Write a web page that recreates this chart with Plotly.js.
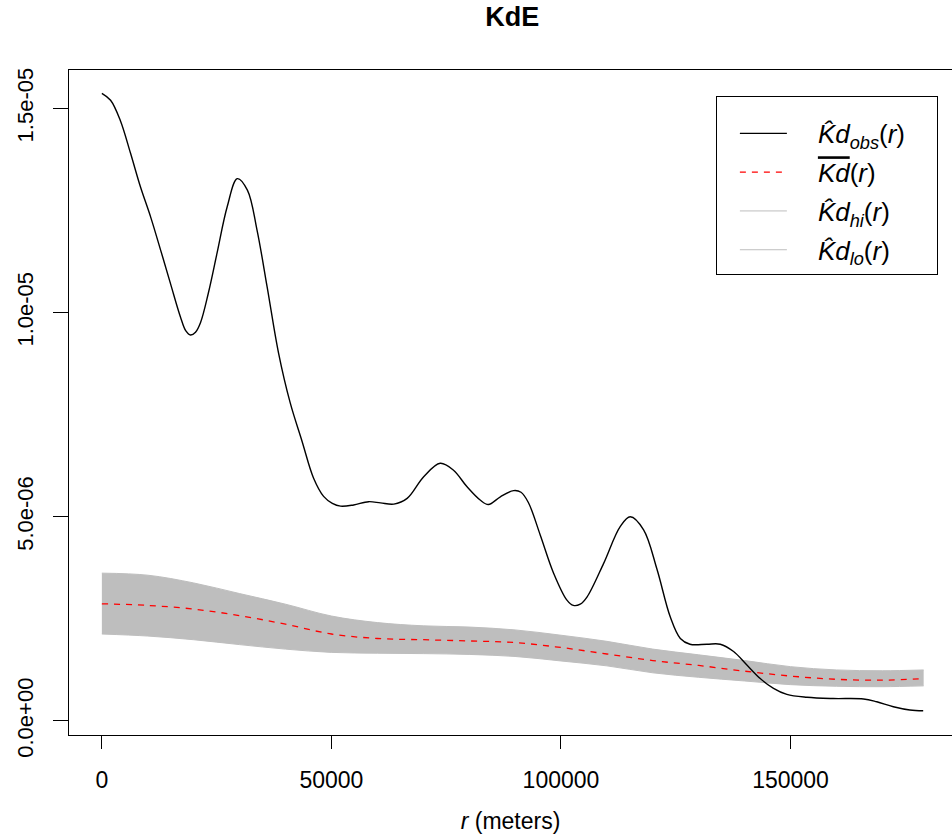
<!DOCTYPE html>
<html>
<head>
<meta charset="utf-8">
<script src="https://cdn.plot.ly/plotly-3.0.1.min.js"></script>
<style>html,body{margin:0;padding:0;background:#fff;}#chart{width:952px;height:839px;}</style>
</head>
<body>
<div id="chart"></div>
<script>
// Observed Kd (r in meters, values in units of 1e-6)
const rObs = [0, 1900, 4000, 6250, 8400, 10600, 12800, 14950, 17100, 18300, 19300, 20400, 21500, 23200, 25100, 27300, 29500, 31700, 33800, 36000, 38500, 41000, 43600, 46100, 48300, 50200, 52000, 54850, 58100, 60700, 63600, 66500, 70100, 73700, 76600, 79500, 82400, 84200, 86800, 89700, 91300, 92900, 95500, 98400, 101300, 102700, 104200, 105700, 109300, 112900, 115100, 118000, 120900, 123800, 126000, 128100, 131800, 134700, 137600, 140500, 143400, 146300, 149200, 153600, 159300, 165900, 168800, 172400, 176000, 178900];
const kdObs = [15.37, 15.2, 14.71, 13.9, 13.08, 12.35, 11.53, 10.71, 9.9, 9.55, 9.45, 9.52, 9.76, 10.48, 11.46, 12.59, 13.28, 13.0, 12.02, 10.63, 9.0, 7.8, 6.85, 5.95, 5.5, 5.33, 5.26, 5.29, 5.37, 5.34, 5.31, 5.45, 5.98, 6.31, 6.14, 5.74, 5.41, 5.3, 5.49, 5.64, 5.6, 5.35, 4.55, 3.62, 2.96, 2.83, 2.86, 3.04, 3.86, 4.76, 5.0, 4.68, 3.72, 2.55, 2.02, 1.88, 1.88, 1.88, 1.7, 1.37, 1.04, 0.8, 0.65, 0.58, 0.55, 0.54, 0.47, 0.35, 0.27, 0.25];

// Envelope (mean, hi, lo)
const rEnv = [0, 10000, 20000, 30000, 40000, 50000, 60000, 70000, 80000, 90000, 100000, 110000, 120000, 130000, 140000, 150000, 160000, 170000, 179000];
const kdMean = [2.87, 2.83, 2.74, 2.58, 2.37, 2.13, 2.02, 1.99, 1.96, 1.92, 1.8, 1.64, 1.48, 1.36, 1.22, 1.1, 1.02, 1.0, 1.04];
const kdHi = [3.62, 3.57, 3.38, 3.12, 2.86, 2.57, 2.41, 2.33, 2.3, 2.23, 2.1, 1.95, 1.76, 1.62, 1.48, 1.33, 1.25, 1.23, 1.25];
const kdLo = [2.13, 2.08, 1.99, 1.87, 1.76, 1.68, 1.66, 1.65, 1.63, 1.58, 1.47, 1.35, 1.18, 1.07, 0.98, 0.89, 0.85, 0.84, 0.86];

const yTickVals = [0, 5e-6, 1e-5, 1.5e-5];
const yTickText = ["0.0e+00", "5.0e-06", "1.0e-05", "1.5e-05"];
const xTickVals = [0, 50000, 100000, 150000];
const xTickText = ["0", "50000", "100000", "150000"];

const sc = v => v * 1e-6;
const yObs = kdObs.map(sc), yMean = kdMean.map(sc), yHi = kdHi.map(sc), yLo = kdLo.map(sc);

const grey = "rgb(190,190,190)";
const FONT = "Liberation Sans, Arial, Helvetica, sans-serif";
const SP = "\u2002\u2002";

const traces = [
  {x: rEnv, y: yLo, type: "scatter", mode: "lines", name: SP + "<i>K\u0302d</i><sub><i>lo</i></sub>(<i>r</i>)" + SP,
   line: {color: grey, width: 1, shape: "spline", smoothing: 1}, legendgroup: "lo", legendrank: 4},
  {x: rEnv, y: yHi, type: "scatter", mode: "lines", fill: "tonexty", fillcolor: grey,
   line: {color: grey, width: 0, shape: "spline", smoothing: 1}, showlegend: false, hoverinfo: "skip"},
  {x: rEnv, y: yHi, type: "scatter", mode: "lines", name: SP + "<i>K\u0302d</i><sub><i>hi</i></sub>(<i>r</i>)" + SP,
   line: {color: grey, width: 1, shape: "spline", smoothing: 1}, legendgroup: "hi", legendrank: 3},
  {x: rEnv, y: yMean, type: "scatter", mode: "lines", name: SP + "<span style=\"text-decoration:overline\"><i>Kd</i></span>(<i>r</i>)" + SP,
   line: {color: "red", width: 1.3, dash: "6px,6px", shape: "spline", smoothing: 1}, legendgroup: "mean", legendrank: 2},
  {x: rObs, y: yObs, type: "scatter", mode: "lines", name: SP + "<i>K\u0302d</i><sub><i>obs</i></sub>(<i>r</i>)" + SP,
   line: {color: "black", width: 1.4, shape: "spline", smoothing: 1}, legendgroup: "obs", legendrank: 1}
];

const layout = {
  width: 952, height: 839,
  margin: {l: 69, r: 0, t: 70, b: 104, pad: 0},
  paper_bgcolor: "white", plot_bgcolor: "white",
  font: {family: FONT, color: "black", size: 22},
  title: {text: "<b>KdE</b>", font: {family: FONT, size: 27, color: "black"},
          x: 0.502, xref: "paper", xanchor: "center", y: 0.98, yref: "container", yanchor: "middle"},
  xaxis: {range: [-7157, 185176], showgrid: false, zeroline: false,
          showline: true, linecolor: "black", linewidth: 1, mirror: true,
          ticks: "outside", ticklen: 13, tickcolor: "black", tickwidth: 1,
          tickvals: xTickVals, ticktext: xTickText, tickfont: {size: 23},
          ticklabelstandoff: 11,
          title: {text: "<i>r</i> (meters)", font: {size: 23}, standoff: 21}},
  yaxis: {range: [-0.343e-6, 15.94e-6], showgrid: false, zeroline: false,
          showline: true, linecolor: "black", linewidth: 1,
          ticks: "outside", ticklen: 15, tickcolor: "black", tickwidth: 1,
          tickvals: yTickVals, ticktext: yTickText, tickangle: -90, tickfont: {size: 22},
          ticklabelstandoff: 11},
  legend: {x: 0.7326, y: 0.961, xanchor: "left", yanchor: "top", xref: "paper", yref: "paper",
           bgcolor: "white", bordercolor: "black", borderwidth: 1,
           font: {size: 26, family: FONT}, traceorder: "grouped", tracegroupgap: 2,
           itemwidth: 47, indentation: 18,
           title: {text: "\u00A0", font: {size: 10}}},
  showlegend: true
};

Plotly.newPlot("chart", traces, layout, {displayModeBar: false, staticPlot: true});
</script>
</body>
</html>
